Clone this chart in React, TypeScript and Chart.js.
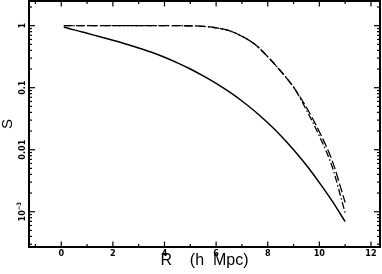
import React, { useEffect, useRef } from "react";
import { Chart, registerables } from "chart.js";

Chart.register(...registerables);

// R (h Mpc)
const rValues = [0.1, 0.5, 1, 1.5, 2, 2.5, 3, 3.5, 4, 4.5, 5, 5.5, 6, 6.5, 7, 7.5, 8, 8.5, 9, 9.5, 10, 10.5, 11];
// solid curve
const solidS = [0.955, 0.855, 0.753, 0.664, 0.582, 0.507, 0.437, 0.372, 0.309, 0.251, 0.2, 0.155, 0.1175, 0.0861, 0.061, 0.0417, 0.0272, 0.017, 0.01, 0.00562, 0.00295, 0.00148, 0.000692];
// long-dashed curve
const dashedS = [1.0, 1.0, 1.0, 1.0, 1.0, 1.0, 1.0, 1.0, 1.0, 0.999, 0.995, 0.977, 0.923, 0.832, 0.676, 0.501, 0.316, 0.186, 0.102, 0.0479, 0.0195, 0.00661, 0.00141];
// dash-dot curve
const dashDotS = [1.0, 1.0, 1.0, 1.0, 1.0, 1.0, 1.0, 1.0, 1.0, 0.999, 0.995, 0.977, 0.923, 0.832, 0.676, 0.501, 0.316, 0.186, 0.102, 0.0437, 0.0166, 0.00525, 0.000955];

const xTickLabels = ["0", "2", "4", "6", "8", "10", "12"];
const yTickValues = [1, 0.1, 0.01, 0.001];
const yTickMain = ["1", "0.1", "0.01", "10"];
const yTickSup = ["", "", "", "\u22123"];

const X_MIN = -1.25;
const X_MAX = 12.35;
const Y_MIN = 2.7e-4;
const Y_MAX = 2.5;

const NARROW = "'Liberation Sans Narrow', 'DejaVu Sans Condensed', 'Liberation Sans', Arial, sans-serif";
const SANS = "'Liberation Sans', Arial, Helvetica, sans-serif";

const framePlugin = {
  id: "frameTicks",
  afterDraw(chart: any) {
    const { ctx, chartArea: a, scales } = chart;
    const xs = scales.x;
    const ys = scales.y;
    ctx.save();
    ctx.strokeStyle = "#000";
    ctx.lineWidth = 1.2;
    const seg = (x1: number, y1: number, x2: number, y2: number) => {
      ctx.beginPath();
      ctx.moveTo(x1, y1);
      ctx.lineTo(x2, y2);
      ctx.stroke();
    };
    for (let v = Math.ceil(X_MIN); v <= Math.floor(X_MAX); v++) {
      const px = xs.getPixelForValue(v);
      const len = v % 2 === 0 ? 5.5 : 3;
      seg(px, a.bottom, px, a.bottom - len);
      seg(px, a.top, px, a.top + len);
    }
    for (let e = -4; e <= 0; e++) {
      for (let m = 1; m <= 9; m++) {
        const v = m * Math.pow(10, e);
        if (v < Y_MIN || v > Y_MAX) continue;
        const py = ys.getPixelForValue(v);
        const len = m === 1 ? 6 : 3;
        seg(a.left, py, a.left + len, py);
        seg(a.right, py, a.right - len, py);
      }
    }
    ctx.lineWidth = 2;
    ctx.strokeRect(a.left, a.top, a.right - a.left, a.bottom - a.top);

    ctx.fillStyle = "#000";
    yTickValues.forEach((v, i) => {
      const py = ys.getPixelForValue(v);
      ctx.save();
      ctx.translate(a.left - 4, py);
      ctx.rotate(-Math.PI / 2);
      ctx.textBaseline = "alphabetic";
      ctx.textAlign = "left";
      ctx.font = "bold 9px " + NARROW;
      const w1 = ctx.measureText(yTickMain[i]).width;
      ctx.font = "bold 6px " + NARROW;
      const w2 = yTickSup[i] ? ctx.measureText(yTickSup[i]).width : 0;
      const start = -(w1 + w2) / 2;
      ctx.font = "bold 9px " + NARROW;
      ctx.fillText(yTickMain[i], start, 0);
      if (yTickSup[i]) {
        ctx.font = "bold 6px " + NARROW;
        ctx.fillText(yTickSup[i], start + w1, -4);
      }
      ctx.restore();
    });
    ctx.restore();
  },
};

export default function App() {
  const canvasRef = useRef<HTMLCanvasElement | null>(null);

  useEffect(() => {
    const canvas = canvasRef.current;
    if (!canvas) return;
    const mk = (arr: number[]) => rValues.map((r, i) => ({ x: r, y: arr[i] }));
    const chart = new Chart(canvas, {
      type: "line",
      data: {
        datasets: [
          {
            label: "dashed",
            data: mk(dashedS),
            borderColor: "#000",
            borderWidth: 1.3,
            borderDash: [9, 3],
            pointRadius: 0,
            fill: false,
            cubicInterpolationMode: "monotone",
          },
          {
            label: "dash-dot",
            data: mk(dashDotS),
            borderColor: "#000",
            borderWidth: 1.3,
            borderDash: [7, 2.5, 1.5, 2.5],
            pointRadius: 0,
            fill: false,
            cubicInterpolationMode: "monotone",
          },
          {
            label: "solid",
            data: mk(solidS),
            borderColor: "#000",
            borderWidth: 1.5,
            pointRadius: 0,
            fill: false,
            cubicInterpolationMode: "monotone",
          },
        ],
      },
      options: {
        animation: false,
        responsive: false,
        maintainAspectRatio: false,
        layout: { padding: { left: 0, right: 2, top: 1, bottom: 0 } },
        plugins: { legend: { display: false }, tooltip: { enabled: false } },
        scales: {
          x: {
            type: "linear",
            min: X_MIN,
            max: X_MAX,
            grid: { display: false, drawTicks: false },
            border: { display: false },
            ticks: {
              stepSize: 1,
              includeBounds: false,
              autoSkip: false,
              maxRotation: 0,
              minRotation: 0,
              padding: 1,
              color: "#000",
              font: { family: NARROW, size: 9, weight: "bold" },
              callback: (value: any) => {
                const s = String(value);
                return xTickLabels.includes(s) ? s : "";
              },
            },
            title: {
              display: true,
              text: "R    (h  Mpc)",
              color: "#000",
              font: { family: SANS, size: 16, lineHeight: 1 },
              padding: { top: 5, bottom: 5 },
            },
            afterFit: (s: any) => {
              s.height = 27;
            },
          },
          y: {
            type: "logarithmic",
            min: Y_MIN,
            max: Y_MAX,
            grid: { display: false, drawTicks: false },
            border: { display: false },
            ticks: { display: false },
            title: {
              display: true,
              text: "S",
              color: "#000",
              font: { family: SANS, size: 15, lineHeight: 1 },
              padding: { top: 0, bottom: 0 },
            },
            afterFit: (s: any) => {
              s.width = 29;
            },
          },
        },
      },
      plugins: [framePlugin],
    } as any);
    return () => chart.destroy();
  }, []);

  return (
    <div style={{ position: "absolute", left: 0, top: 0, width: 382, height: 274, background: "#fff" }}>
      <canvas ref={canvasRef} width={382} height={274} style={{ display: "block" }} />
    </div>
  );
}
